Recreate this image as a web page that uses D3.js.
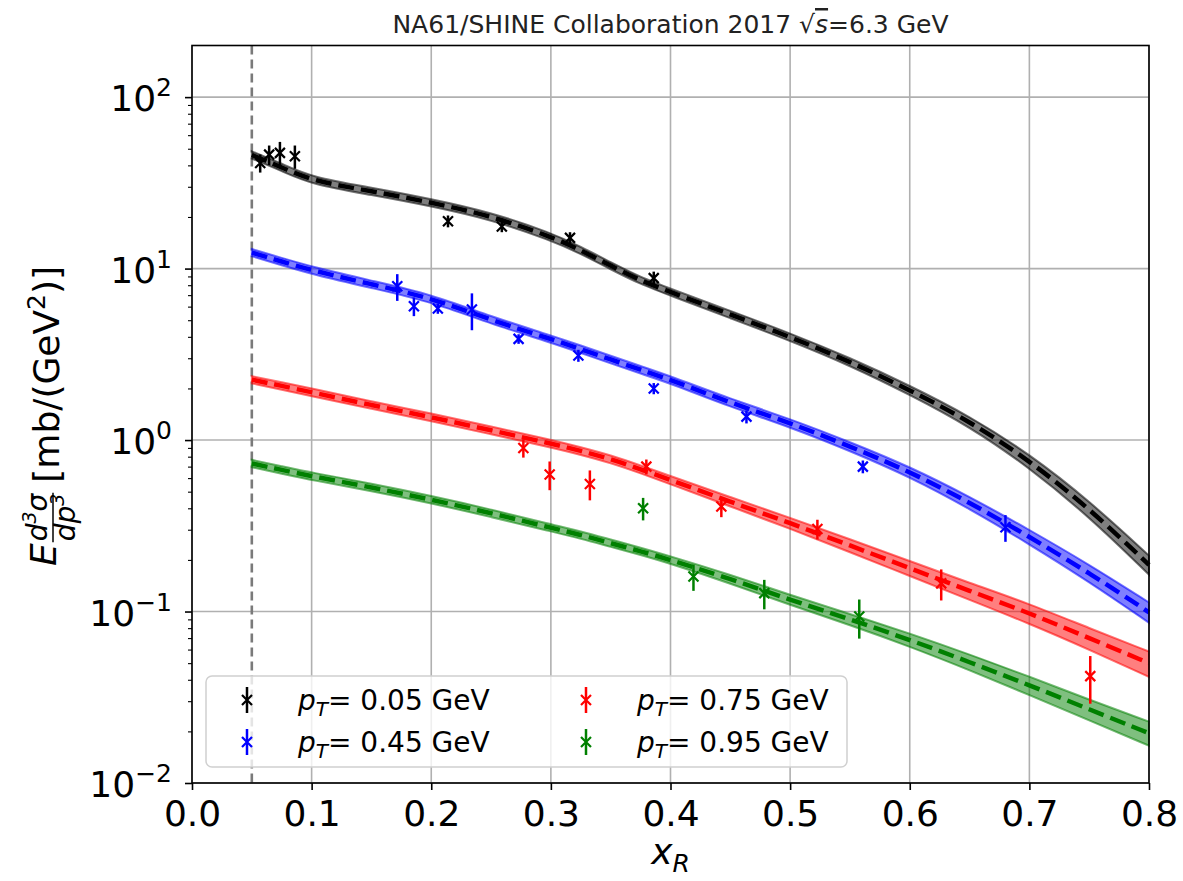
<!DOCTYPE html>
<html>
<head>
<meta charset="utf-8">
<script src="https://cdn.jsdelivr.net/npm/d3@7"></script>
<style>
body { margin: 0; background: #fff; }
text { font-family: "DejaVu Sans", sans-serif; }
</style>
</head>
<body>
<div id="chart"></div>
<script>
// model curves (x_R nodes shared by all four pT values)
var xModel = [0.05, 0.075, 0.1, 0.15, 0.2, 0.25, 0.3, 0.325, 0.35, 0.375, 0.4, 0.45, 0.5, 0.55, 0.6, 0.65, 0.7, 0.75, 0.8];

var model005 = [46, 39, 32.5, 28.3, 24.3, 20.3, 15.4, 12.8, 10.4, 8.5, 7.3, 5.4, 4.0, 2.87, 1.96, 1.29, 0.76, 0.40, 0.187];
var model005Lo = [43.8, 37.1, 30.9, 26.9, 23.1, 19.3, 14.6, 12.2, 9.9, 8.1, 6.95, 5.13, 3.8, 2.72, 1.84, 1.2, 0.69, 0.357, 0.164];
var model005Hi = [48.3, 41.0, 34.1, 29.7, 25.5, 21.3, 16.2, 13.4, 10.9, 8.9, 7.65, 5.67, 4.2, 3.02, 2.08, 1.38, 0.83, 0.443, 0.212];

var model045 = [12.4, 11.0, 9.77, 8.1, 6.75, 5.0, 3.89, 3.39, 2.95, 2.57, 2.25, 1.65, 1.26, 0.92, 0.655, 0.433, 0.273, 0.168, 0.099];
var model045Lo = [11.8, 10.45, 9.28, 7.7, 6.41, 4.75, 3.7, 3.22, 2.8, 2.44, 2.14, 1.56, 1.19, 0.865, 0.61, 0.398, 0.247, 0.149, 0.086];
var model045Hi = [13.0, 11.55, 10.26, 8.5, 7.09, 5.25, 4.08, 3.56, 3.1, 2.7, 2.36, 1.74, 1.33, 0.975, 0.70, 0.468, 0.30, 0.188, 0.113];

var model075 = [2.25, 2.07, 1.9, 1.6, 1.36, 1.14, 0.955, 0.865, 0.776, 0.676, 0.585, 0.437, 0.328, 0.243, 0.179, 0.132, 0.098, 0.070, 0.050];
var model075Lo = [2.14, 1.97, 1.8, 1.52, 1.29, 1.08, 0.905, 0.82, 0.735, 0.64, 0.553, 0.41, 0.304, 0.222, 0.161, 0.117, 0.085, 0.060, 0.0415];
var model075Hi = [2.36, 2.17, 2.0, 1.68, 1.43, 1.2, 1.005, 0.91, 0.817, 0.712, 0.617, 0.465, 0.352, 0.264, 0.197, 0.147, 0.111, 0.080, 0.0585];

var model095 = [0.73, 0.67, 0.615, 0.53, 0.45, 0.375, 0.308, 0.28, 0.25, 0.225, 0.2, 0.155, 0.117, 0.0902, 0.0684, 0.0507, 0.0372, 0.0269, 0.0195];
var model095Lo = [0.694, 0.637, 0.584, 0.504, 0.428, 0.356, 0.293, 0.266, 0.238, 0.214, 0.19, 0.146, 0.109, 0.0835, 0.0625, 0.0455, 0.0326, 0.0232, 0.0165];
var model095Hi = [0.767, 0.704, 0.646, 0.557, 0.473, 0.394, 0.323, 0.294, 0.263, 0.236, 0.21, 0.164, 0.125, 0.097, 0.0745, 0.0562, 0.0418, 0.0306, 0.0228];

// NA61/SHINE data points
var data005X = [0.057, 0.0645, 0.0735, 0.086, 0.214, 0.259, 0.316, 0.386];
var data005Y = [41.3, 46.2, 47.3, 45.2, 18.9, 17.6, 15.1, 8.8];
var data005E = [5, 6, 7.5, 7, 1.5, 1.3, 1.2, 0.8];

var data045X = [0.1716, 0.1855, 0.2055, 0.234, 0.273, 0.323, 0.386, 0.4635, 0.5608, 0.68];
var data045Y = [7.88, 6.03, 5.85, 5.77, 3.89, 3.11, 2.0, 1.37, 0.70, 0.31];
var data045E = [1.4, 0.75, 0.4, 1.4, 0.25, 0.25, 0.15, 0.12, 0.06, 0.055];

var data075X = [0.277, 0.299, 0.3326, 0.3798, 0.4425, 0.5228, 0.6263, 0.7509];
var data075Y = [0.90, 0.63, 0.555, 0.70, 0.41, 0.303, 0.146, 0.042];
var data075E = [0.11, 0.12, 0.11, 0.07, 0.055, 0.04, 0.03, 0.013];

var data095X = [0.3771, 0.4192, 0.4784, 0.5578];
var data095Y = [0.40, 0.16, 0.128, 0.0935];
var data095E = [0.06, 0.028, 0.025, 0.024];

var seriesLabels = ["0.05", "0.45", "0.75", "0.95"];
var seriesColors = ["black", "blue", "red", "green"];

var xTicks = [0, 0.1, 0.2, 0.3, 0.4, 0.5, 0.6, 0.7, 0.8];
var yTicks = [0.01, 0.1, 1, 10, 100];
var yTickExp = ["\u22122", "\u22121", "0", "1", "2"];

var width = 1183;
var height = 881;

var series = [
    {model: model005, lo: model005Lo, hi: model005Hi, px: data005X, py: data005Y, pe: data005E},
    {model: model045, lo: model045Lo, hi: model045Hi, px: data045X, py: data045Y, pe: data045E},
    {model: model075, lo: model075Lo, hi: model075Hi, px: data075X, py: data075Y, pe: data075E},
    {model: model095, lo: model095Lo, hi: model095Hi, px: data095X, py: data095Y, pe: data095E}
].map((s, i) => (s.label = seriesLabels[i], s.color = seriesColors[i], s));

var x = d3.scaleLinear().domain([0, 0.8]).range([192, 1149]);
var y = d3.scaleLog().domain([0.01, 200]).range([783, 45.5]);

var svg = d3.select("#chart").append("svg")
    .attr("width", width)
    .attr("height", height)
    .attr("viewBox", [0, 0, width, height]);

// grid
svg.append("g")
    .selectAll("line")
    .data(xTicks)
    .join("line")
    .attr("x1", d => x(d)).attr("x2", d => x(d))
    .attr("y1", y.range()[1]).attr("y2", y.range()[0])
    .attr("stroke", "#b0b0b0").attr("stroke-width", 1.6);

svg.append("g")
    .selectAll("line")
    .data(yTicks)
    .join("line")
    .attr("x1", x.range()[0]).attr("x2", x.range()[1])
    .attr("y1", d => y(d)).attr("y2", d => y(d))
    .attr("stroke", "#b0b0b0").attr("stroke-width", 1.6);

// dashed vertical line at x_R = 0.05
svg.append("line")
    .attr("x1", x(0.05)).attr("x2", x(0.05))
    .attr("y1", y.range()[1]).attr("y2", y.range()[0])
    .attr("stroke", "#7a7a7a").attr("stroke-width", 2.6)
    .attr("stroke-dasharray", "9,5");

// model bands + dashed central lines
var area = d3.area()
    .x((d, i) => x(xModel[i]))
    .y0(d => y(d[0]))
    .y1(d => y(d[1]))
    .curve(d3.curveBasis);

var line = d3.line()
    .x((d, i) => x(xModel[i]))
    .y(d => y(d))
    .curve(d3.curveBasis);

series.forEach(s => {
    var band = s.lo.map((v, i) => [v, s.hi[i]]);
    svg.append("path")
        .attr("d", area(band))
        .attr("fill", s.color).attr("fill-opacity", 0.5)
        .attr("stroke", s.color).attr("stroke-opacity", 0.55).attr("stroke-width", 2);
    svg.append("path")
        .attr("d", line(s.model))
        .attr("fill", "none")
        .attr("stroke", s.color).attr("stroke-width", 4.5)
        .attr("stroke-dasharray", "16,7");
});

// data points with error bars
var xMark = "M-5,-5L5,5M-5,5L5,-5";
series.forEach(s => {
    var g = svg.append("g");
    var pts = s.px.map((v, i) => ({x: v, y: s.py[i], e: s.pe[i]}));
    g.selectAll("line")
        .data(pts)
        .join("line")
        .attr("x1", d => x(d.x)).attr("x2", d => x(d.x))
        .attr("y1", d => y(d.y - d.e)).attr("y2", d => y(d.y + d.e))
        .attr("stroke", s.color).attr("stroke-width", 2.5);
    g.selectAll("path")
        .data(pts)
        .join("path")
        .attr("d", xMark)
        .attr("transform", d => `translate(${x(d.x)},${y(d.y)})`)
        .attr("stroke", s.color).attr("stroke-width", 2.2).attr("fill", "none");
});

// axes
var xAxis = g => g
    .attr("transform", `translate(0,${y.range()[0]})`)
    .call(d3.axisBottom(x).tickValues(xTicks).tickFormat(d3.format(".1f")).tickSize(7).tickPadding(10))
    .call(g => g.selectAll(".domain").remove())
    .call(g => g.selectAll(".tick line").attr("stroke-width", 1.6))
    .call(g => g.selectAll("text").attr("font-size", 36).attr("font-family", "DejaVu Sans").attr("fill", "#000"));

var minorTicks = [];
yTicks.slice(0, -1).forEach(t => { for (var k = 2; k <= 9; k++) minorTicks.push(t * k); });

var yAxis = g => g
    .attr("transform", `translate(${x.range()[0]},0)`)
    .call(d3.axisLeft(y).tickValues(yTicks).tickFormat("").tickSize(7))
    .call(g => g.selectAll(".domain").remove())
    .call(g => g.selectAll(".tick line").attr("stroke-width", 1.6));

svg.append("g").call(xAxis);
svg.append("g").call(yAxis);
svg.append("g")
    .attr("transform", `translate(${x.range()[0]},0)`)
    .call(d3.axisLeft(y).tickValues(minorTicks).tickFormat("").tickSize(4))
    .call(g => g.selectAll(".domain").remove())
    .call(g => g.selectAll(".tick line").attr("stroke-width", 1.1));

// y tick labels 10^n
var yLab = svg.append("g").selectAll("text")
    .data(yTicks)
    .join("text")
    .attr("x", 172)
    .attr("y", d => y(d) + 14)
    .attr("text-anchor", "end")
    .attr("font-size", 36)
    .attr("fill", "#000");
yLab.append("tspan").text("10");
yLab.append("tspan").attr("font-size", 25).attr("dy", -15).text((d, i) => yTickExp[i]);

// frame
svg.append("rect")
    .attr("x", x.range()[0]).attr("y", y.range()[1])
    .attr("width", x.range()[1] - x.range()[0])
    .attr("height", y.range()[0] - y.range()[1])
    .attr("fill", "none").attr("stroke", "#000").attr("stroke-width", 1.6);

// title
var title = svg.append("text")
    .attr("x", (x.range()[0] + x.range()[1]) / 2)
    .attr("y", 33)
    .attr("text-anchor", "middle")
    .attr("font-size", 25)
    .attr("fill", "#222");
title.append("tspan").text("NA61/SHINE Collaboration 2017 \u221A");
title.append("tspan").style("font-style", "italic").style("text-decoration", "overline").text("s");
title.append("tspan").text("=6.3 GeV");

// x label
var xl = svg.append("text")
    .attr("x", (x.range()[0] + x.range()[1]) / 2)
    .attr("y", 864)
    .attr("text-anchor", "middle")
    .attr("font-size", 36)
    .style("font-style", "italic");
xl.append("tspan").text("x");
xl.append("tspan").attr("font-size", 25).attr("dy", 8).text("R");

// y label: E d^3sigma/dp^3 [mb/(GeV^2)]
var yl = svg.append("g").attr("transform", "translate(59,416) rotate(-90)");
var inner = yl.append("g");
var eT = inner.append("text").attr("font-size", 36).attr("y", -3).style("font-style", "italic").text("E");
var num = inner.append("text").attr("font-size", 28).style("font-style", "italic").attr("y", -12);
num.append("tspan").text("d");
num.append("tspan").attr("font-size", 19).attr("dy", -11).text("3");
num.append("tspan").attr("dy", 11).text("\u03C3");
var den = inner.append("text").attr("font-size", 28).style("font-style", "italic").attr("y", 16);
den.append("tspan").text("dp");
den.append("tspan").attr("font-size", 19).attr("dy", -11).text("3");
var rest = inner.append("text").attr("font-size", 36);
rest.append("tspan").text("[mb/(GeV");
rest.append("tspan").attr("font-size", 25).attr("dy", -14).text("2");
rest.append("tspan").attr("dy", 14).text(")]");

var wE = eT.node().getComputedTextLength();
var wN = num.node().getComputedTextLength();
var wD = den.node().getComputedTextLength();
var wF = Math.max(wN, wD) + 2;
var wR = rest.node().getComputedTextLength();
var fx = wE + 1;
num.attr("x", fx + (wF - wN) / 2);
den.attr("x", fx + (wF - wD) / 2);
inner.append("line")
    .attr("x1", fx).attr("x2", fx + wF)
    .attr("y1", -6).attr("y2", -6)
    .attr("stroke", "#000").attr("stroke-width", 1.5);
rest.attr("x", fx + wF + 10);
var total = fx + wF + 10 + wR;
inner.attr("transform", `translate(${-total / 2},0)`);

// legend
var legend = svg.append("g");
legend.append("rect")
    .attr("x", 206).attr("y", 676).attr("width", 641).attr("height", 91)
    .attr("rx", 6)
    .attr("fill", "#fff").attr("fill-opacity", 0.8)
    .attr("stroke", "#d0d0d0").attr("stroke-width", 1.5);

var legPos = [[247, 700], [247, 742], [586, 700], [586, 742]];
series.forEach((s, i) => {
    var lx = legPos[i][0], ly = legPos[i][1];
    legend.append("line")
        .attr("x1", lx).attr("x2", lx).attr("y1", ly - 13).attr("y2", ly + 13)
        .attr("stroke", s.color).attr("stroke-width", 2.5);
    legend.append("path")
        .attr("d", xMark).attr("transform", `translate(${lx},${ly})`)
        .attr("stroke", s.color).attr("stroke-width", 2.2).attr("fill", "none");
    var t = legend.append("text")
        .attr("x", lx + 51).attr("y", ly + 10)
        .attr("font-size", 28).attr("fill", "#000");
    t.append("tspan").style("font-style", "italic").text("p");
    t.append("tspan").style("font-style", "italic").attr("font-size", 20).attr("dy", 6).text("T");
    t.append("tspan").attr("dy", -6).text("= " + s.label + " GeV");
});
</script>
</body>
</html>
